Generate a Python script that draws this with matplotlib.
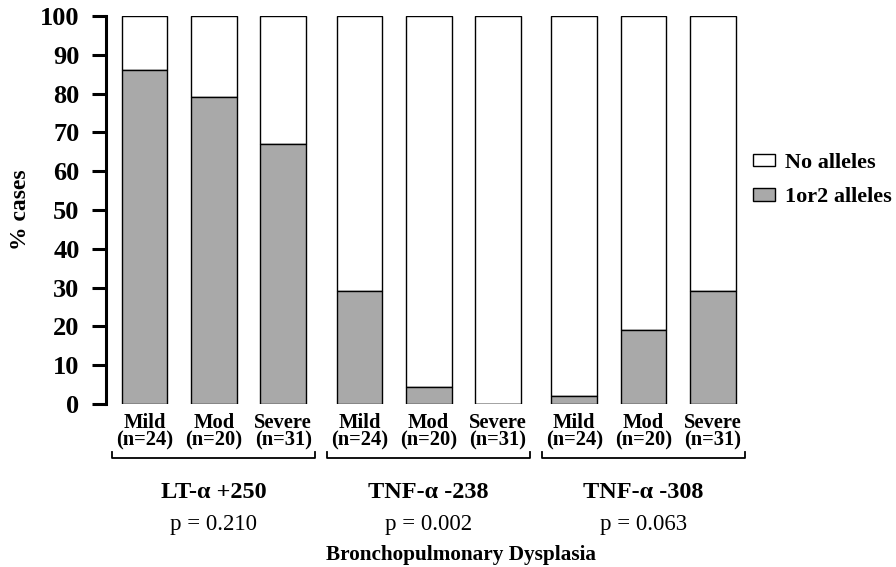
import matplotlib
matplotlib.use("Agg")
import matplotlib.pyplot as plt
import matplotlib.transforms as mtransforms
from matplotlib.patches import Patch

plt.rcParams['font.family'] = ['Liberation Serif', 'DejaVu Serif']

# ---- data ----
groups = ["LT-\u03b1 +250", "TNF-\u03b1 -238", "TNF-\u03b1 -308"]
pvalues = ["p = 0.210", "p = 0.002", "p = 0.063"]
severity = ["Mild", "Mod", "Severe"]
counts = ["(n=24)", "(n=20)", "(n=31)"]
pct_alleles = [86, 79, 67, 29, 4.5, 0, 2, 19, 29]   # % cases with 1 or 2 alleles
total = 100

# ---- layout helpers ----
group_gap = 0.1
positions = []
for g in range(len(groups)):
    for s in range(len(severity)):
        positions.append(g * 3 + s + g * group_gap)
pct_none = [total - v for v in pct_alleles]

fig = plt.figure(figsize=(8.96, 5.67), dpi=100)
ax = fig.add_axes([0.1183, 0.2875, 0.7188, 0.6843])

gray = '#a9a9a9'
w = 0.66
ax.bar(positions, pct_none, bottom=pct_alleles, width=w, color='white',
       edgecolor='black', linewidth=1.0, zorder=2)
ax.bar(positions, pct_alleles, width=w, color=gray,
       edgecolor='black', linewidth=1.0, zorder=3)

ax.set_xlim(-0.556, 8.737)
ax.set_ylim(0, 100)
ax.set_yticks(range(0, 101, 10))
ax.set_xticks([])
for sp in ['top', 'right', 'bottom']:
    ax.spines[sp].set_visible(False)
ax.spines['left'].set_linewidth(2.2)
ax.tick_params(axis='y', length=10, width=2.2, pad=9, labelsize=19)
for lab in ax.get_yticklabels():
    lab.set_fontweight('bold')

ax.set_ylabel("% cases", fontsize=17, fontweight='bold')
ax.yaxis.set_label_coords(-0.117, 0.5)

trans = mtransforms.blended_transform_factory(ax.transData, ax.transAxes)

# category labels
for i, x in enumerate(positions):
    s = i % 3
    ax.text(x, -0.048, severity[s], transform=trans, ha='center', va='center',
            fontsize=14.8, fontweight='bold')
    ax.text(x, -0.095, counts[s], transform=trans, ha='center', va='center',
            fontsize=14.8, fontweight='bold')

# brackets and group labels
for g in range(len(groups)):
    x0 = positions[g * 3] - 0.47
    x1 = positions[g * 3 + 2] + 0.46
    ax.plot([x0, x0, x1, x1], [-0.124, -0.139, -0.139, -0.124], transform=trans,
            color='black', linewidth=1.3, clip_on=False, solid_joinstyle='round')
    xc = positions[g * 3 + 1]
    ax.text(xc, -0.229, groups[g], transform=trans, ha='center', va='center',
            fontsize=17.5, fontweight='bold')
    ax.text(xc, -0.31, pvalues[g], transform=trans, ha='center', va='center',
            fontsize=16.5)

fig.text(461 / 896, 1 - 555 / 567, "Bronchopulmonary Dysplasia", ha='center',
         va='center', fontsize=15.3, fontweight='bold')

handles = [Patch(facecolor='white', edgecolor='black', linewidth=1.0),
           Patch(facecolor=gray, edgecolor='black', linewidth=1.0)]
leg = fig.legend(handles, ["No alleles", "1or2 alleles"], loc='upper left',
                 bbox_to_anchor=(753 / 896, 1 - 153 / 567), frameon=False,
                 handlelength=1.0, handleheight=0.5, handletextpad=0.45,
                 labelspacing=0.65, borderpad=0, borderaxespad=0,
                 prop={'family': 'Liberation Serif', 'weight': 'bold', 'size': 16})

fig.savefig("out.png", dpi=100)
